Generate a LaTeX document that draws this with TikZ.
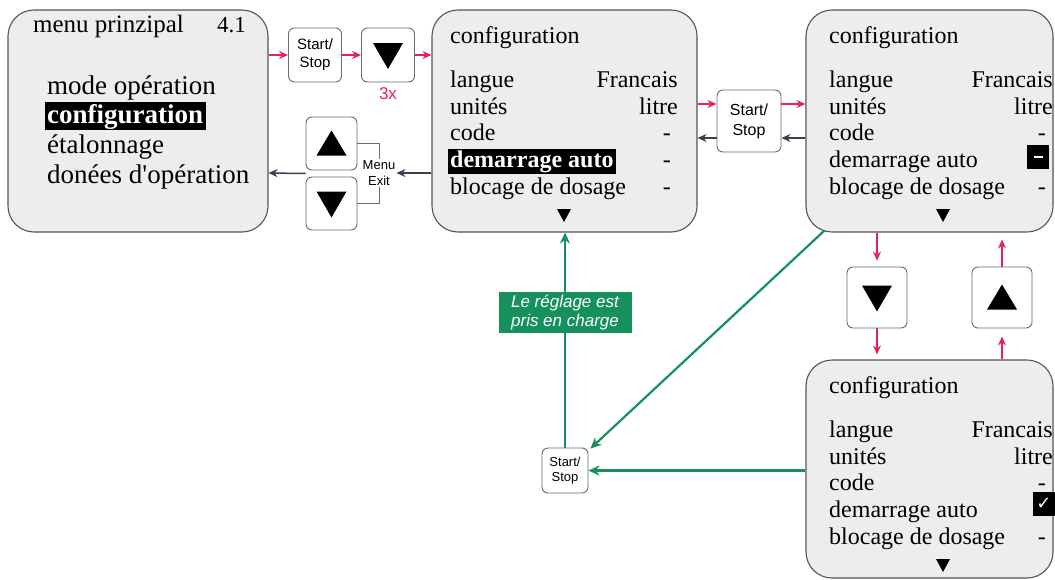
\documentclass[tikz,border=0pt]{standalone}
\usepackage{fontspec}
\setmainfont{Liberation Serif}
\setsansfont{Liberation Sans}
\newfontfamily\symfont{DejaVu Sans}
\usetikzlibrary{arrows.meta,positioning,calc}
\definecolor{arrred}{HTML}{E3245C}
\definecolor{arrgreen}{HTML}{16905C}
\definecolor{arrdark}{HTML}{3B3E4F}
\definecolor{screengray}{HTML}{EDEDED}
\definecolor{framegray}{HTML}{555555}
\definecolor{keygray}{HTML}{6A6A6A}
\newcommand{\scrtri}[2]{\fill (#1-7,#2-6) -- (#1+7,#2-6) -- (#1,#2+7) -- cycle;}
% one configuration screen: prefix, left x, right x, baseline of the title
\newcommand{\cfgscreen}[4]{%
  \node[row,anchor=base west] (#1h) at (#2,#4) {configuration};
  \node[row,anchor=base west] (#1a) at (#2,#4+44) {langue};
  \node[row,anchor=base east] (#1av) at (#3,#4+44) {Francais};
  \node[row,anchor=base west] (#1b) at (#2,#4+71) {unités};
  \node[row,anchor=base east] (#1bv) at (#3,#4+71) {litre};
  \node[row,anchor=base west] (#1c) at (#2,#4+97) {code};
  \node[row,anchor=base east] (#1cv) at (#3-7,#4+97) {-};
  \node[row,anchor=base west] (#1e) at (#2,#4+151) {blocage de dosage};
  \node[row,anchor=base east] (#1ev) at (#3-7,#4+151) {-};
  \scrtri{#2+114}{#4+172}}

\begin{document}
\begin{tikzpicture}[x=1pt,y=-1pt,
  screen/.style={draw=framegray,fill=screengray,line width=1.1pt,rounded corners=26pt,inner sep=0pt},
  key/.style={draw=keygray,fill=white,line width=0.9pt,rounded corners=6pt,inner sep=0pt,
    minimum width=53pt,minimum height=54pt,align=center,font=\sffamily\fontsize{15}{18}\selectfont},
  dnkey/.style={key,path picture={\fill[black,sharp corners] ([shift={(-15pt,12pt)}]path picture bounding box.center)
    -- ([shift={(15pt,12pt)}]path picture bounding box.center)
    -- ([shift={(0pt,-14pt)}]path picture bounding box.center) -- cycle;}},
  upkey/.style={key,path picture={\fill[black,sharp corners] ([shift={(-15pt,-12pt)}]path picture bounding box.center)
    -- ([shift={(15pt,-12pt)}]path picture bounding box.center)
    -- ([shift={(0pt,13pt)}]path picture bounding box.center) -- cycle;}},
  row/.style={inner sep=0pt,font=\fontsize{24}{27}\selectfont},
  big/.style={inner sep=0pt,anchor=base west,font=\fontsize{27}{30}\selectfont},
  hl/.style={fill=black,text=white,inner xsep=2.5pt,inner ysep=1.5pt},
  valbox/.style={fill=black,text=white,inner sep=0pt,minimum width=22pt,minimum height=24pt},
  redarr/.style={draw=arrred,line width=1.5pt,-{Stealth[length=9pt,width=8pt]}},
  darkarr/.style={draw=arrdark,line width=1.5pt,-{Stealth[length=9pt,width=8pt]}},
  greenarr/.style={draw=arrgreen,line width=2.2pt,-{Stealth[length=11pt,width=10pt]}},
  glabel/.style={fill=arrgreen,text=white,align=center,inner sep=0pt,minimum width=133pt,
    minimum height=41pt,font=\sffamily\itshape\fontsize{17}{19}\selectfont}]
  \useasboundingbox (0,0) rectangle (1055,579);
  % screens
  \node[screen,minimum width=260pt,minimum height=222pt] (A) at (138,121) {};
  \node[screen,minimum width=265pt,minimum height=222pt] (B) at (564.5,121) {};
  \node[screen,minimum width=247pt,minimum height=222pt] (C) at (929.5,121) {};
  \node[screen,minimum width=247pt,minimum height=218pt] (D) at (929.5,469) {};
  % keys
  \node[key] (sA) at (315,55) {Start/\\Stop};
  \node[dnkey] (dA) at (388,55) {};
  \node[below=5pt of dA,inner sep=0pt,text=arrred,font=\sffamily\fontsize{17}{20}\selectfont] (n3x) {3x};
  \node[upkey,minimum width=51pt,minimum height=53pt] (uA) at (331.5,143.5) {};
  \node[dnkey,minimum width=51pt,minimum height=53pt] (dnA) at (331.5,203.5) {};
  \coordinate (udA) at ($(uA.south west)!.5!(dnA.north west)$);
  \draw[keygray,line width=0.8pt] (uA.east) -| (379,160) (dnA.east) -| (379,186);
  \node[fill=white,inner sep=1pt,align=center,font=\sffamily\fontsize{13}{16}\selectfont] (mx) at (379,173) {Menu\\Exit};
  \node[key,minimum width=64pt,minimum height=62pt,font=\sffamily\fontsize{16}{20}\selectfont] (sB) at (749,121) {Start/\\Stop};
  \node[dnkey,minimum width=60pt,minimum height=61pt] (dC) at (877,297.5) {};
  \node[upkey,minimum width=60pt,minimum height=61pt] (uC) at (1002,297.5) {};
  \node[key,minimum width=46pt,minimum height=45pt,font=\sffamily\fontsize{13}{15}\selectfont] (sD) at (565,470.5) {Start/\\Stop};
  % main menu
  \node[inner sep=0pt,anchor=base west,font=\fontsize{25}{28}\selectfont] (Ah) at (33,32) {menu prinzipal};
  \node[inner sep=0pt,anchor=base east,font=\fontsize{23}{28}\selectfont] (Av) at (246,32) {4.1};
  \node[big] (A1) at (47,94) {mode opération};
  \node[big,hl,font=\fontsize{27}{30}\selectfont\bfseries] (A2) at (44.5,123) {configuration};
  \node[big] (A3) at (47,153) {étalonnage};
  \node[big] (A4) at (47,183) {donées d\textquotesingle opération};
  % configuration screens
  \cfgscreen{B}{450}{678}{43}
  \node[row,hl,anchor=base west,font=\fontsize{24}{27}\selectfont\bfseries] (Bd) at (447.5,167) {demarrage auto};
  \node[row,anchor=base east] (Bdv) at (671,167) {-};
  \cfgscreen{C}{829}{1053}{43}
  \node[row,anchor=base west] (Cd) at (829,167) {demarrage auto};
  \node[valbox] (Cdv) at (1038,157) {};
  \fill[white] ($(Cdv)+(-4.5,-1.3)$) rectangle ($(Cdv)+(4.5,1.3)$);
  \cfgscreen{D}{829}{1053}{393}
  \node[row,anchor=base west] (Dd) at (829,517) {demarrage auto};
  \node[valbox,font=\symfont\fontsize{18}{20}\selectfont] (Ddv) at (1044,504) {✓};
  % arrows
  \draw[redarr] ([yshift=66pt]A.east) -- (sA.west);
  \draw[redarr] (sA) -- (dA);
  \draw[redarr] (dA.east) -- ([yshift=66pt]B.west);
  \draw[darkarr] ([yshift=-52pt]B.west) -- (mx.east);
  \draw[darkarr] (udA) -- ([yshift=-52pt]A.east);
  \draw[redarr] ([yshift=17pt]B.east) -- ([yshift=17pt]sB.west);
  \draw[redarr] ([yshift=17pt]sB.east) -- ([yshift=17pt]C.west);
  \draw[darkarr] ([yshift=-17pt]C.west) -- ([yshift=-17pt]sB.east);
  \draw[darkarr] ([yshift=-17pt]sB.west) -- ([yshift=-17pt]B.east);
  \draw[redarr,shorten >=6pt] (dC.north |- C.south) -- (dC.north);
  \draw[redarr,shorten >=5pt] (dC.south) -- (dC.south |- D.north);
  \draw[redarr,shorten >=8pt] (uC.south |- D.north) -- (uC.south);
  \draw[redarr,shorten >=7pt] (uC.north) -- (uC.north |- C.south);
  \draw[greenarr] (D.west |- sD.east) -- (sD.east);
  \draw[greenarr] ([shift={(19pt,2pt)}]C.south west) -- ([shift={(2pt,-1pt)}]sD.north east);
  \draw[greenarr] (sD.north) -- (sD.north |- B.south) node[pos=.63,glabel] (gl) {Le réglage est\\pris en charge};
\end{tikzpicture}
\end{document}
